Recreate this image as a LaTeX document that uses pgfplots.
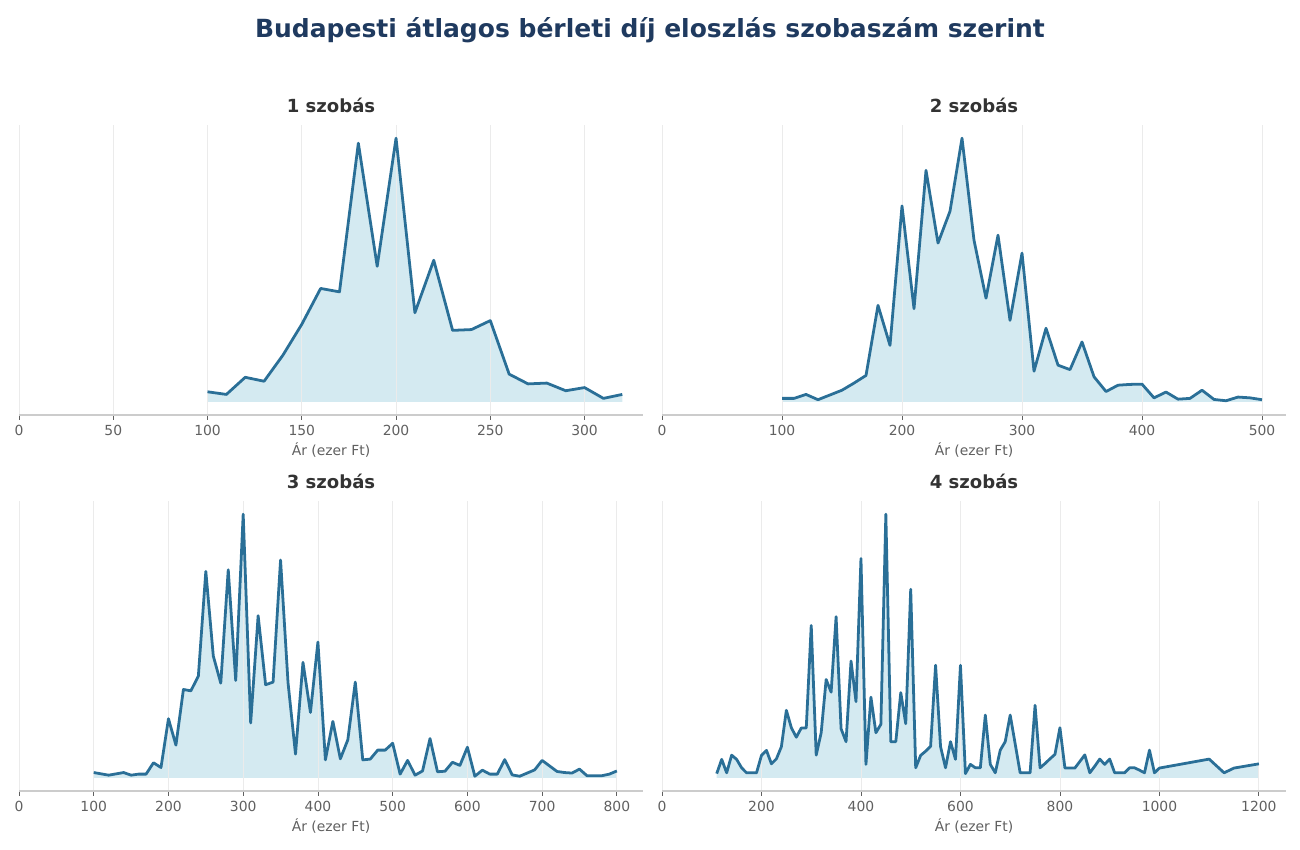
\documentclass[border=0pt]{standalone}
\usepackage{fontspec}
\setmainfont{DejaVu Sans}
\usepackage{pgfplots}
\usepackage{pgfplotstable}
\pgfplotsset{compat=1.18}

\definecolor{linecol}{RGB}{42,111,151}
\definecolor{fillcol}{RGB}{212,234,241}
\definecolor{gridcol}{RGB}{235,235,235}
\definecolor{axiscol}{RGB}{204,204,204}
\definecolor{tickcol}{RGB}{96,96,96}
\definecolor{titlecol}{RGB}{31,58,95}
\definecolor{subcol}{RGB}{51,51,51}

\pgfplotstableread{
x y
100 3.8
110 2.8
120 9.3
130 7.8
140 17.7
150 29.4
160 43.0
170 41.7
180 98.1
190 51.4
200 100
210 33.8
220 53.7
230 27.1
240 27.4
250 30.8
260 10.5
270 6.8
280 7.1
290 4.2
300 5.4
310 1.3
320 2.8
}\roomone

\pgfplotstableread{
x y
100 1.3
110 1.3
120 2.8
130 0.8
140 2.6
150 4.4
160 7.1
170 10.0
180 36.6
190 21.4
200 74.3
210 35.3
220 87.8
230 60.2
240 72.3
250 100
260 61.3
270 39.3
280 63.2
290 30.9
300 56.4
310 11.6
320 27.9
330 13.9
340 12.2
350 22.7
360 9.5
370 3.9
380 6.3
390 6.6
400 6.7
410 1.5
420 3.7
430 1.0
440 1.3
450 4.4
460 0.9
470 0.4
480 1.8
490 1.5
500 0.8
}\roomtwo

\pgfplotstableread{
x y
100 2.0
110 1.5
120 1.0
130 1.5
140 2.0
150 1.0
160 1.4
170 1.4
180 5.7
190 3.9
200 22.4
210 12.4
220 33.5
230 33.0
240 38.6
250 78.3
260 46.2
270 35.9
280 78.9
290 36.9
300 100
310 20.8
320 61.5
330 35.3
340 36.3
350 82.6
360 36.1
370 9.0
380 43.8
390 24.8
400 51.5
410 6.8
420 21.4
430 7.2
440 14.4
450 36.3
460 6.8
470 7.1
480 10.5
490 10.5
500 13.1
510 1.4
520 6.6
530 1.0
540 2.6
550 14.9
560 2.3
570 2.5
580 5.9
590 4.7
600 11.6
610 0.6
620 2.9
630 1.4
640 1.4
650 6.9
660 1.1
670 0.6
680 1.8
690 3.0
700 6.6
710 4.5
720 2.4
730 2.0
740 1.8
750 3.3
760 0.8
770 0.8
780 0.8
790 1.4
800 2.6
}\roomthree

\pgfplotstableread{
x y
110 1.6
120 7.0
130 1.9
140 8.6
150 7.0
160 3.8
170 1.9
180 1.9
190 1.9
200 8.5
210 10.4
220 5.3
230 7.2
240 11.8
250 25.6
260 19.0
270 15.4
280 18.9
290 18.9
300 57.8
310 8.6
320 17.1
330 37.3
340 32.5
350 61.1
360 18.6
370 13.7
380 44.3
390 28.9
400 83.2
410 5.1
420 30.6
430 17.1
440 20.3
450 100
460 13.7
470 13.7
480 32.3
490 20.5
500 71.5
510 3.8
520 8.5
530 10.1
540 12.0
550 42.7
560 11.8
570 3.8
580 13.7
590 7.0
600 42.7
610 1.6
620 5.1
630 3.8
640 3.8
650 23.8
660 5.1
670 1.9
680 10.5
690 13.7
700 23.8
710 12.9
720 1.9
730 1.9
740 1.9
750 27.5
760 3.8
770 5.4
780 7.2
790 8.9
800 19.0
810 3.7
820 3.7
830 3.7
840 6.2
850 8.7
860 1.9
870 4.4
880 7.1
890 5.1
900 7.1
910 1.9
920 1.9
930 1.9
940 3.8
950 3.8
960 2.9
970 1.9
980 10.5
990 1.9
1000 3.7
1100 7.1
1130 1.9
1150 3.7
1200 5.3
}\roomfour

\pgfplotsset{
  panel/.style={
    set layers,
    scale only axis,
    width=449.28pt, height=208.8pt,
    anchor=south west,
    axis x line*=bottom,
    axis y line*=left,
    y axis line style={draw=none},
    ymin=-5, ymax=105,
    ytick=\empty,
    xmin=0,
    xmajorgrids,
    grid style={color=gridcol, line width=0.6pt},
    x axis line style={color=axiscol, line width=0.8pt},
    xtick pos=bottom,
    tick align=outside,
    major tick length=3.5pt,
    xtick style={color=tickcol, line width=0.6pt},
    /pgf/number format/assume math mode=true,
    /pgf/number format/1000 sep={},
    xticklabel style={font=\fontsize{10}{12}\selectfont, text=tickcol},
    xlabel={Ár (ezer Ft)},
    xlabel style={font=\fontsize{10}{12}\selectfont, text=tickcol, at={(axis description cs:0.5,0)}, anchor=base, yshift=-29.5pt},
    title style={at={(axis description cs:0.5,1)}, anchor=base, yshift=3pt, font=\fontsize{13}{15}\selectfont\bfseries, text=subcol},
  },
  fillplot/.style={fill=fillcol, draw=none, on layer=axis background},
  lineplot/.style={color=linecol, line width=2pt, line join=round, no marks},
}

\begin{document}
\begin{tikzpicture}
\path (0,0) rectangle (936pt,612pt);
\node[font=\fontsize{18}{21}\selectfont\bfseries, text=titlecol, anchor=base] at (468pt,585.1pt) {Budapesti átlagos bérleti díj eloszlás szobaszám szerint};

\begin{axis}[panel, at={(13.68pt,313.2pt)}, xmax=331, xtick={0,50,...,300}, title={1 szobás}]
\addplot[fillplot] table[x=x,y=y] {\roomone} \closedcycle;
\addplot[lineplot] table[x=x,y=y] {\roomone};
\end{axis}

\begin{axis}[panel, at={(476.64pt,313.2pt)}, xmax=520, xtick={0,100,...,500}, title={2 szobás}]
\addplot[fillplot] table[x=x,y=y] {\roomtwo} \closedcycle;
\addplot[lineplot] table[x=x,y=y] {\roomtwo};
\end{axis}

\begin{axis}[panel, at={(13.68pt,42.48pt)}, xmax=835, xtick={0,100,...,800}, title={3 szobás}]
\addplot[fillplot] table[x=x,y=y] {\roomthree} \closedcycle;
\addplot[lineplot] table[x=x,y=y] {\roomthree};
\end{axis}

\begin{axis}[panel, at={(476.64pt,42.48pt)}, xmax=1254.5, xtick={0,200,...,1200}, title={4 szobás}]
\addplot[fillplot] table[x=x,y=y] {\roomfour} \closedcycle;
\addplot[lineplot] table[x=x,y=y] {\roomfour};
\end{axis}
\end{tikzpicture}
\end{document}
